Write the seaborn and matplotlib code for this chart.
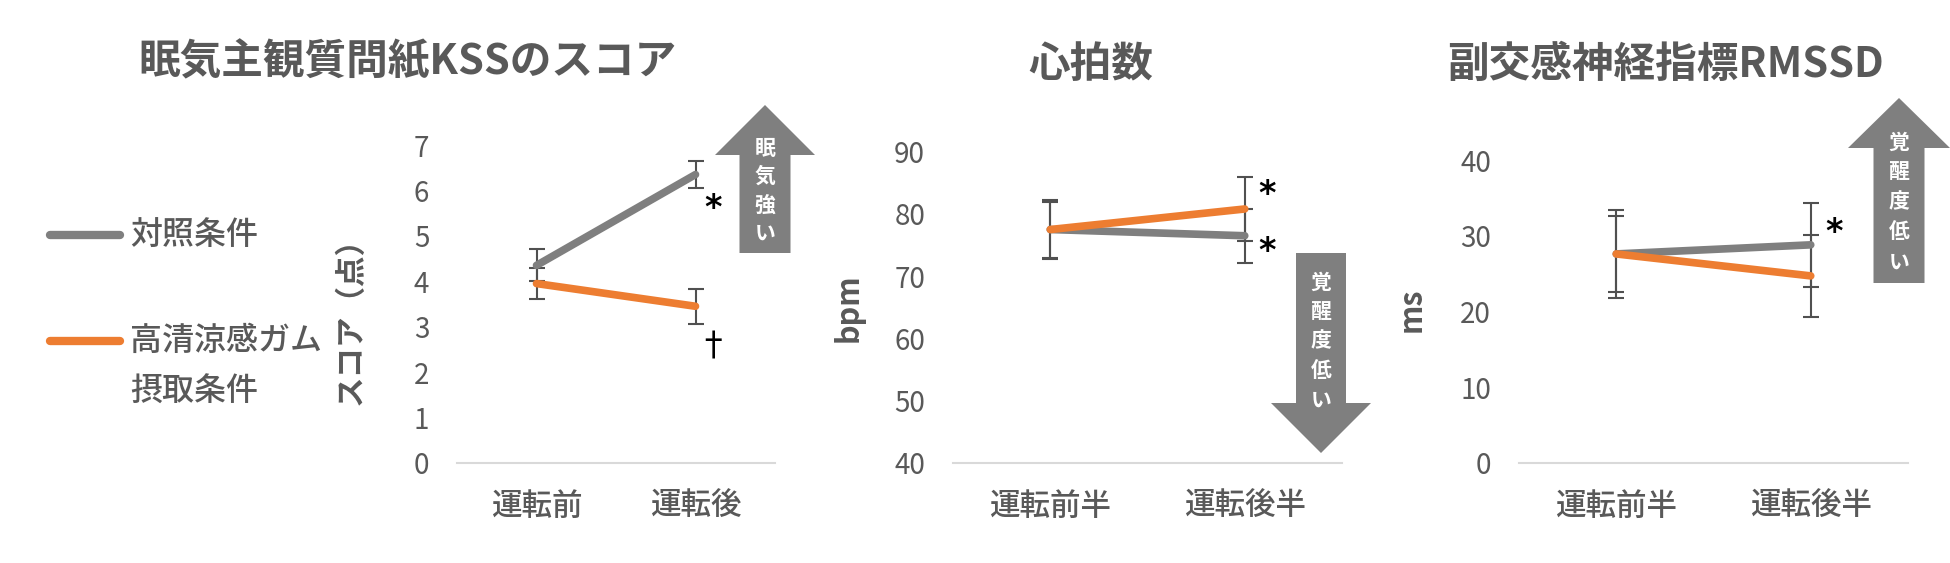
import numpy as np
import pandas as pd
import matplotlib
matplotlib.use("Agg")
import matplotlib.pyplot as plt
from matplotlib.patches import Polygon
from matplotlib.lines import Line2D
import seaborn as sns

# ---------------- data ----------------
conditions = ["対照条件", "高清涼感ガム摂取条件"]
legend_labels = ["対照条件", "高清涼感ガム\n摂取条件"]

kss_phases = ["運転前", "運転後"]
kss_control = [4.35, 6.35]
kss_control_err = [0.35, 0.30]
kss_gum = [3.95, 3.45]
kss_gum_err = [0.35, 0.38]

half_phases = ["運転前半", "運転後半"]
hr_control = [77.5, 76.5]
hr_control_err = [4.8, 4.3]
hr_gum = [77.5, 80.8]
hr_gum_err = [4.5, 5.1]

rmssd_control = [27.6, 28.8]
rmssd_control_err = [5.8, 5.5]
rmssd_gum = [27.6, 24.7]
rmssd_gum_err = [5.0, 5.4]

titles = ["眠気主観質問紙KSSのスコア", "心拍数", "副交感神経指標RMSSD"]
ylabels = ["スコア（点）", "bpm", "ms"]
yticks_kss = [0, 1, 2, 3, 4, 5, 6, 7]
yticks_hr = [40, 50, 60, 70, 80, 90]
yticks_rmssd = [0, 10, 20, 30, 40]

# ---------------- style ----------------
sns.set_theme(style="white")
plt.rcParams["font.family"] = ["Noto Sans CJK JP", "DejaVu Sans"]

GRAY = "#7f7f7f"
ORANGE = "#ed7d31"
TXT = "#595959"
ERR = "#505050"
ARROW = "#7f7f7f"
palette = [GRAY, ORANGE]

W, H = 1950, 563
fig = plt.figure(figsize=(W / 100, H / 100), dpi=100)
fig.patch.set_facecolor("white")


def fx(px):
    return px / W


def fy(py):
    return 1 - py / H


def make_axes(left, right, top, bottom=463):
    return fig.add_axes([fx(left), fy(bottom), (right - left) / W, (bottom - top) / H])


def draw_panel(ax, phases, ctrl, ctrl_err, gum, gum_err, ylim, yticks, ylabel, lab_xy):
    df = pd.DataFrame({
        "phase": phases * 2,
        "value": ctrl + gum,
        "cond": [conditions[0]] * 2 + [conditions[1]] * 2,
    })
    for vals, errs in ((ctrl, ctrl_err), (gum, gum_err)):
        ax.errorbar(phases, vals, yerr=errs, fmt="none", ecolor=ERR,
                    elinewidth=1.5, capsize=5.5, capthick=1.5, zorder=1)
    sns.lineplot(data=df, x="phase", y="value", hue="cond", hue_order=conditions,
                 palette=palette, linewidth=5.5, sort=False, legend=False, ax=ax,
                 zorder=3)
    for ln in ax.get_lines():
        ln.set_solid_capstyle("round")
    ax.set_xlim(-0.5, 1.5)
    ax.set_ylim(*ylim)
    ax.set_yticks(yticks)
    ax.set_xlabel("")
    ax.set_ylabel(ylabel, fontsize=22, fontweight="bold", color=TXT)
    ax.yaxis.set_label_coords(*lab_xy)
    for s in ["top", "right", "left"]:
        ax.spines[s].set_visible(False)
    ax.spines["bottom"].set_color("#d9d9d9")
    ax.spines["bottom"].set_linewidth(1.5)
    ax.tick_params(axis="y", length=0, pad=20, labelsize=20, labelcolor=TXT)
    ax.tick_params(axis="x", length=0, pad=20, labelsize=22, labelcolor=TXT)
    for t in ax.get_xticklabels():
        t.set_fontweight("medium")
    ax.set_facecolor("none")
    ax.grid(False)


ax1 = make_axes(457, 775, 145)
draw_panel(ax1, kss_phases, kss_control, kss_control_err, kss_gum, kss_gum_err,
           (0, 7), yticks_kss, ylabels[0], (-0.283, 0.47))
ax2 = make_axes(953, 1342, 151.7)
draw_panel(ax2, half_phases, hr_control, hr_control_err, hr_gum, hr_gum_err,
           (40, 90), yticks_hr, ylabels[1], (-0.226, 0.50))
ax3 = make_axes(1519, 1908, 160)
draw_panel(ax3, half_phases, rmssd_control, rmssd_control_err, rmssd_gum, rmssd_gum_err,
           (0, 40), yticks_rmssd, ylabels[2], (-0.235, 0.505))

# significance marks
star_kw = dict(fontsize=24, fontweight="bold", color="black", ha="center",
               va="center", zorder=5, family=["DejaVu Sans"])
dag_kw = dict(fontsize=24, color="black", ha="center", va="center", zorder=5)
ax1.text(1.11, 5.6, "*", **star_kw)
ax1.text(1.11, 2.55, "†", **dag_kw)
ax2.text(1.115, 83.1, "*", **star_kw)
ax2.text(1.115, 73.9, "*", **star_kw)
ax3.text(1.12, 30.4, "*", **star_kw)

# titles
title_pos = [(138, 62), (1028, 65), (1447, 65)]
for t, (px, py) in zip(titles, title_pos):
    fig.text(fx(px), fy(py), t, fontsize=30, fontweight="bold", color=TXT,
             ha="left", va="center")

# legend (manual)
leg_rows = [(235, legend_labels[0]), (341, legend_labels[1])]
for (py, lab), col in zip(leg_rows, palette):
    fig.add_artist(Line2D([fx(50), fx(120)], [fy(py), fy(py)], color=col, lw=6,
                          solid_capstyle="round", transform=fig.transFigure))
    lines = lab.split("\n")
    for i, s in enumerate(lines):
        fig.text(fx(130), fy(py + i * 51), s, fontsize=23, fontweight="medium",
                 color=TXT, ha="left", va="center")


# arrows
def arrow(cx, shaft_w, head_w, tip, head_base, tail, text, text_y0, step):
    pts = [(cx, tip), (cx + head_w / 2, head_base), (cx + shaft_w / 2, head_base),
           (cx + shaft_w / 2, tail), (cx - shaft_w / 2, tail),
           (cx - shaft_w / 2, head_base), (cx - head_w / 2, head_base)]
    poly = Polygon([(fx(x), fy(y)) for x, y in pts], closed=True, facecolor=ARROW,
                   edgecolor="none", transform=fig.transFigure, zorder=4)
    fig.add_artist(poly)
    for i, ch in enumerate(text):
        fig.text(fx(cx), fy(text_y0 + i * step), ch, fontsize=15, fontweight="bold",
                 color="white", ha="center", va="center", zorder=5)


arrow(765, 51, 100, 105, 155, 253, "眠気強い", 148, 28.5)
arrow(1321, 50, 100, 453, 403, 253, "覚醒度低い", 282, 29.5)
arrow(1899, 51, 102, 98, 148, 283, "覚醒度低い", 142, 30)

fig.savefig("out.png", dpi=100)
